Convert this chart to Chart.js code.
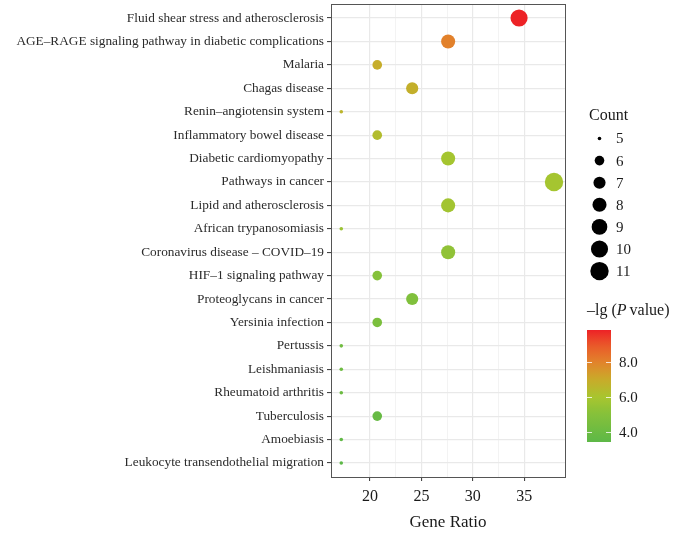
<!DOCTYPE html>
<html>
<head>
<meta charset="utf-8">
<script src="https://cdn.jsdelivr.net/npm/chart.js@4.4.1/dist/chart.umd.min.js"></script>
<style>
  html, body { margin: 0; padding: 0; background: #fff; }
  #wrap { width: 692px; height: 537px; }
</style>
</head>
<body>
<div id="wrap"><canvas id="dot-chart" width="692" height="537"></canvas></div>
<script>
// KEGG enrichment dot plot

const pathways = [
    'Fluid shear stress and atherosclerosis',
    'AGE\u2013RAGE signaling pathway in diabetic complications',
    'Malaria',
    'Chagas disease',
    'Renin\u2013angiotensin system',
    'Inflammatory bowel disease',
    'Diabetic cardiomyopathy',
    'Pathways in cancer',
    'Lipid and atherosclerosis',
    'African trypanosomiasis',
    'Coronavirus disease \u2013 COVID\u201319',
    'HIF\u20131 signaling pathway',
    'Proteoglycans in cancer',
    'Yersinia infection',
    'Pertussis',
    'Leishmaniasis',
    'Rheumatoid arthritis',
    'Tuberculosis',
    'Amoebiasis',
    'Leukocyte transendothelial migration'
];
const geneRatio = [34.5, 27.6, 20.7, 24.1, 17.2, 20.7, 27.6, 37.9, 27.6, 17.2,
                   27.6, 20.7, 24.1, 20.7, 17.2, 17.2, 17.2, 20.7, 17.2, 17.2];
const counts    = [10, 8, 6, 7, 5, 6, 8, 11, 8, 5,
                   8, 6, 7, 6, 5, 5, 5, 6, 5, 5];
const logP      = [9.8, 8.0, 6.9, 6.8, 6.6, 6.3, 5.9, 5.9, 5.8, 5.6,
                   5.3, 5.0, 4.8, 4.6, 4.2, 4.1, 4.0, 3.8, 3.6, 3.43];

const countLegend = [5, 6, 7, 8, 9, 10, 11];
const colorTicks = [4, 6, 8];

const SERIF = '"Liberation Serif", "DejaVu Serif", serif';
const pMin = Math.min(...logP), pMax = Math.max(...logP);
const cMin = Math.min(...countLegend), cMax = Math.max(...countLegend);

// green -> yellow-green -> mustard -> orange -> red
const colorStops = [
    [0.00, [93, 184, 71]],
    [0.25, [134, 193, 58]],
    [0.40, [168, 197, 47]],
    [0.56, [201, 170, 42]],
    [0.71, [226, 131, 43]],
    [0.87, [234, 86, 42]],
    [1.00, [237, 34, 38]]
];

function colorAt(t) {
    t = Math.max(0, Math.min(1, t));
    for (let i = 1; i < colorStops.length; i++) {
        const [t1, c1] = colorStops[i];
        const [t0, c0] = colorStops[i - 1];
        if (t <= t1) {
            const f = (t - t0) / (t1 - t0);
            const c = c0.map((v, k) => Math.round(v + (c1[k] - v) * f));
            return `rgb(${c[0]},${c[1]},${c[2]})`;
        }
    }
    return 'rgb(237,34,38)';
}
const colorFor = v => colorAt((v - pMin) / (pMax - pMin));
// area scale like ggplot's scale_size
const radiusFor = c => 1.8 + 7.4 * Math.sqrt((c - cMin) / (cMax - cMin));

const panelBorder = {
    id: 'panelBorder',
    afterDatasetsDraw(chart) {
        const { ctx, chartArea: a } = chart;
        ctx.save();
        ctx.strokeStyle = '#555';
        ctx.lineWidth = 1;
        ctx.strokeRect(Math.round(a.left) + 0.5, Math.round(a.top) + 0.5,
                       Math.round(a.right - a.left), Math.round(a.bottom - a.top));
        ctx.restore();
    }
};

const legends = {
    id: 'legends',
    afterDraw(chart) {
        const ctx = chart.ctx;
        ctx.save();
        ctx.fillStyle = '#1a1a1a';
        ctx.textBaseline = 'middle';
        ctx.textAlign = 'left';

        // size legend
        ctx.font = `16px ${SERIF}`;
        ctx.fillText('Count', 589, 116);
        ctx.font = `15px ${SERIF}`;
        countLegend.forEach((c, i) => {
            const y = 138.5 + i * 22.1;
            ctx.fillStyle = '#000';
            ctx.beginPath();
            ctx.arc(599.5, y, radiusFor(c), 0, Math.PI * 2);
            ctx.fill();
            ctx.fillStyle = '#1a1a1a';
            ctx.fillText(String(c), 616, y + 1);
        });

        // colour bar
        const bx = 587, bw = 24, top = 330, bottom = 442;
        const grad = ctx.createLinearGradient(0, bottom, 0, top);
        for (let i = 0; i <= 20; i++) grad.addColorStop(i / 20, colorAt(i / 20));
        ctx.fillStyle = grad;
        ctx.fillRect(bx, top, bw, bottom - top);
        const yOf = v => bottom - (v - pMin) / (pMax - pMin) * (bottom - top);
        ctx.strokeStyle = 'rgba(255,255,255,0.8)';
        ctx.lineWidth = 1;
        colorTicks.forEach(v => {
            const y = Math.round(yOf(v)) + 0.5;
            ctx.beginPath();
            ctx.moveTo(bx, y); ctx.lineTo(bx + 5, y);
            ctx.moveTo(bx + bw - 5, y); ctx.lineTo(bx + bw, y);
            ctx.stroke();
            ctx.fillStyle = '#1a1a1a';
            ctx.font = `15px ${SERIF}`;
            ctx.fillText(v.toFixed(1), 619, y + 1);
        });

        // colour bar title: –lg (P value)
        ctx.fillStyle = '#1a1a1a';
        let x = 587;
        const ty = 311;
        ctx.font = `16px ${SERIF}`;
        ctx.fillText('\u2013lg (', x, ty);
        x += ctx.measureText('\u2013lg (').width;
        ctx.font = `italic 16px ${SERIF}`;
        ctx.fillText('P', x, ty);
        x += ctx.measureText('P').width + 3;
        ctx.font = `16px ${SERIF}`;
        ctx.fillText('value)', x, ty);
        ctx.restore();
    }
};

const isMajorX = v => Math.abs(v / 5 - Math.round(v / 5)) < 1e-6;

const ctx = document.getElementById('dot-chart').getContext('2d');
new Chart(ctx, {
    type: 'scatter',
    data: {
        datasets: [{
            data: pathways.map((p, i) => ({ x: geneRatio[i], y: i })),
            pointRadius: c => radiusFor(counts[c.dataIndex]),
            pointHoverRadius: c => radiusFor(counts[c.dataIndex]),
            pointBackgroundColor: c => colorFor(logP[c.dataIndex]),
            pointBorderWidth: 0,
            pointBorderColor: 'rgba(0,0,0,0)'
        }]
    },
    options: {
        responsive: false,
        animation: false,
        layout: { autoPadding: false, padding: { left: 0, right: 127, top: 4, bottom: 0 } },
        plugins: {
            legend: { display: false },
            tooltip: { enabled: false }
        },
        scales: {
            x: {
                type: 'linear',
                min: 16.2,
                max: 38.97,
                afterBuildTicks: s => {
                    s.ticks = s.ticks.filter(t => Math.abs(t.value / 2.5 - Math.round(t.value / 2.5)) < 1e-6);
                },
                afterFit: s => {
                    s.height = 60;
                    s.paddingLeft = 0;
                    s.paddingRight = 0;
                },
                ticks: {
                    stepSize: 2.5,
                    autoSkip: false,
                    maxRotation: 0,
                    padding: 6,
                    color: '#1a1a1a',
                    font: { family: SERIF, size: 16 },
                    callback: v => isMajorX(v) ? String(v) : ''
                },
                grid: {
                    color: c => isMajorX(c.tick.value) ? '#e9e9e9' : '#f0f0f0',
                    lineWidth: c => isMajorX(c.tick.value) ? 1.2 : 0.8,
                    tickColor: c => isMajorX(c.tick.value) ? '#333' : 'rgba(0,0,0,0)',
                    tickLength: 4,
                    tickWidth: 1
                },
                border: { display: false },
                title: {
                    display: true,
                    text: 'Gene Ratio',
                    color: '#1a1a1a',
                    font: { family: SERIF, size: 17 },
                    padding: { top: 4, bottom: 4 }
                }
            },
            y: {
                type: 'linear',
                reverse: true,
                min: -0.6,
                max: pathways.length - 0.4,
                afterBuildTicks: s => {
                    s.ticks = pathways.map((p, i) => ({ value: i }));
                },
                afterFit: s => {
                    s.width = 331;
                    s.paddingTop = 0;
                    s.paddingBottom = 0;
                },
                ticks: {
                    autoSkip: false,
                    padding: 3,
                    color: '#2b2b2b',
                    font: { family: SERIF, size: 13.3 },
                    callback: v => pathways[v]
                },
                grid: {
                    color: '#e9e9e9',
                    lineWidth: 1.2,
                    tickColor: '#333',
                    tickLength: 4,
                    tickWidth: 1
                },
                border: { display: false }
            }
        }
    },
    plugins: [panelBorder, legends]
});
</script>
</body>
</html>
